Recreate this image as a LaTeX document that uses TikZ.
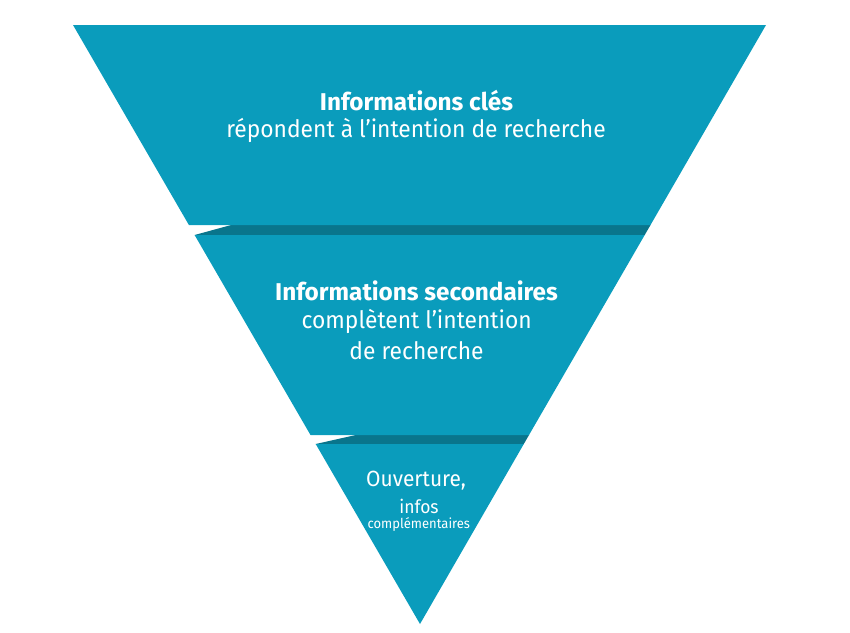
\documentclass[tikz,border=0pt]{standalone}
\usepackage{fontspec}
\setmainfont{Fira Sans}
\newfontfamily\narrowfira[FakeStretch=0.95]{Fira Sans}
\definecolor{teal1}{RGB}{10,156,188}
\definecolor{teal2}{RGB}{9,117,140}
\begin{document}
\begin{tikzpicture}[x=1pt,y=-1pt,
  piece/.style={fill=teal1,draw=none},
  fold/.style={fill=teal2,draw=none},
  txt/.style={text=white,inner sep=0pt,anchor=center},
  boldtxt/.style={txt,font=\fontsize{24.3}{28}\selectfont\bfseries},
  regtxt/.style={txt,font=\narrowfira\fontsize{24}{28}\selectfont}]
\useasboundingbox (0,0) rectangle (850,632);
% folds
\fill[fold] (194.6,235) -- (233,224.5) -- (650.8,224.5) -- (644.7,235) -- cycle;
\fill[fold] (315.7,444) -- (358,434.5) -- (529.3,434.5) -- (523.8,444) -- cycle;
% pieces
\fill[piece] (73,25) -- (766,25) -- (650.5,225) -- (188.9,225) -- cycle;
\fill[piece] (194.6,235) -- (644.7,235) -- (529,435) -- (310.5,435) -- cycle;
\fill[piece] (315.7,444) -- (523.8,444) -- (420,624) -- cycle;
% texts
\node[boldtxt] (t1) at (416.5,101) {Informations clés};
\node[regtxt] (t2) at (416,130) {répondent à l’intention de recherche};
\node[boldtxt] (t3) at (416.5,291) {Informations secondaires};
\node[regtxt] (t4) at (416.7,321) {complètent l’intention};
\node[regtxt] (t5) at (416.5,351) {de recherche};
\node[txt,font=\narrowfira\fontsize{22}{25}\selectfont] (t6) at (416,481) {Ouverture,};
\node[txt,font=\narrowfira\fontsize{18.4}{21}\selectfont] (t7) at (419,506) {infos};
\node[txt,font=\narrowfira\fontsize{13.7}{16}\selectfont] (t8) at (418.8,524) {complémentaires};
\end{tikzpicture}
\end{document}
